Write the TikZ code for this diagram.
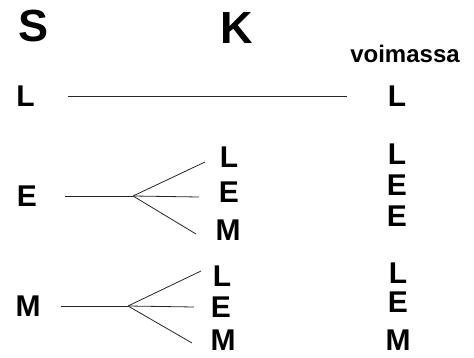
\documentclass[tikz,border=0pt]{standalone}
\usepackage{fontspec}
\setmainfont{Liberation Sans}
\usetikzlibrary{positioning}

\begin{document}
\begin{tikzpicture}[x=1pt,y=-1pt,
  letter/.style={font=\fontsize{30}{30}\selectfont\bfseries,inner sep=0pt},
  head/.style={font=\fontsize{45}{45}\selectfont\bfseries,inner sep=0pt},
  word/.style={font=\fontsize{24}{24}\selectfont\bfseries,inner sep=0pt},
  branch/.style={line width=0.8pt,black!85},
]
\useasboundingbox (0,0) rectangle (474,358);

% column heads
\node[head] (sHead) at (33.5,26.5) {S};
\node[head] (kHead) at (237,28.5) {K};
\node[word] (vHead) at (405,53.5) {voimassa};

% S = L
\node[letter] (sL) at (25.5,96) {L};
\node[letter] (vL) at (397,96) {L};
\draw[branch,shorten <=33pt,shorten >=41pt] (sL) -- (vL);

% S = E
\node[letter] (sE) at (27,196) {E};
\node[letter] (kEL) at (229,157) {L};
\node[letter] (kEE) at (229,192) {E};
\node[letter] (kEM) at (228,230) {M};
\node[letter] (vEL) at (397,154) {L};
\node[letter] (vEE) at (397,185) {E};
\node[letter] (vEM) at (397,216) {E};
\coordinate (eFork) at (133,196);
\coordinate (eTipL) at (205,162);
\coordinate (eTipE) at (199,197);
\coordinate (eTipM) at (196,234);
\draw[branch,shorten <=28pt] (sE) -- (eFork);
\foreach \t in {L,E,M}
  \draw[branch] (eFork) -- (eTip\t);

% S = M
\node[letter] (sM) at (28,306) {M};
\node[letter] (kML) at (222,276) {L};
\node[letter] (kME) at (221,307) {E};
\node[letter] (kMM) at (223,340) {M};
\node[letter] (vML) at (398,273) {L};
\node[letter] (vME) at (398,302) {E};
\node[letter] (vMM) at (398,340) {M};
\coordinate (mFork) at (128,306);
\coordinate (mTipL) at (201,271);
\coordinate (mTipE) at (194,307);
\coordinate (mTipM) at (192,343);
\draw[branch,shorten <=20pt] (sM) -- (mFork);
\foreach \t in {L,E,M}
  \draw[branch] (mFork) -- (mTip\t);
\end{tikzpicture}
\end{document}
